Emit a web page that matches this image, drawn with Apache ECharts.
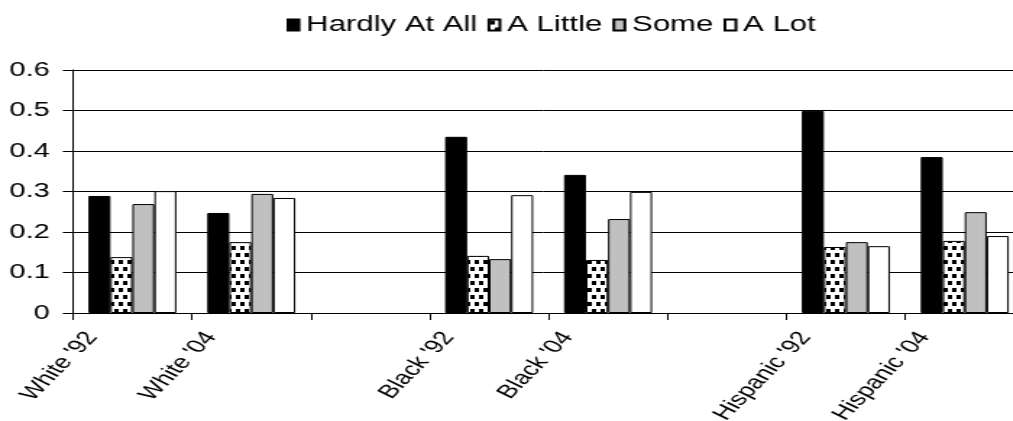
<!DOCTYPE html>
<html>
<head>
<meta charset="utf-8">
<script src="https://cdn.jsdelivr.net/npm/echarts@6/dist/echarts.min.js"></script>
<style>
  html, body { margin: 0; padding: 0; background: #fff; overflow: hidden; }
  /* the chart is laid out narrow and widened horizontally */
  #chart { width: 700px; height: 421px; transform: scaleX(1.447); transform-origin: 0 0; }
</style>
</head>
<body>
<div id="chart"></div>
<script>
// Groups along the x axis (blank slots separate the three groups)
const categories = ["White '92", "White '04", "", "Black '92", "Black '04", " ", "Hispanic '92", "Hispanic '04"];
const seriesNames = ["Hardly At All", "A Little", "Some", "A Lot"];

const hardlyAtAll = [0.289, 0.247, null, 0.435, 0.341, null, 0.499, 0.385];
const aLittle     = [0.138, 0.175, null, 0.141, 0.131, null, 0.163, 0.178];
const some        = [0.269, 0.294, null, 0.133, 0.232, null, 0.175, 0.249];
const aLot        = [0.301, 0.284, null, 0.291, 0.299, null, 0.165, 0.190];

const yTicks = { min: 0, max: 0.6, interval: 0.1 };

// speckled fill for "A Little"
function dotPattern() {
  const c = document.createElement('canvas');
  c.width = 12; c.height = 14;
  const g = c.getContext('2d');
  g.fillStyle = '#fff';
  g.fillRect(0, 0, 12, 14);
  g.fillStyle = '#000';
  g.fillRect(1, 1, 3, 4);
  g.fillRect(7, 1, 3, 4);
  g.fillRect(4, 8, 3, 4);
  g.fillRect(10, 8, 2, 4);
  g.fillRect(0, 8, 1, 4);
  return c;
}

const fills = [
  '#000000',
  { image: dotPattern(), repeat: 'repeat' },
  '#c0c0c0',
  '#ffffff'
];
const values = [hardlyAtAll, aLittle, some, aLot];

const font = 'Liberation Sans, Arial, sans-serif';

// plot area and the label strip, which sits slightly left of the bars
const plot = { left: 50.4, right: -7.8, top: 70, bottom: 108 };
const labelShift = 28;

const chart = echarts.init(document.getElementById('chart'), null, { renderer: 'canvas' });
chart.setOption({
  animation: false,
  backgroundColor: '#fff',
  legend: {
    data: seriesNames,
    left: 193,
    top: 9,
    itemWidth: 7.6,
    itemHeight: 11,
    itemGap: 7,
    icon: 'rect',
    textStyle: { fontFamily: font, fontSize: 21.5, color: '#000' }
  },
  grid: [
    Object.assign({ containLabel: false, outerBoundsMode: 'none' }, plot),
    {
      left: plot.left - labelShift,
      right: plot.right + labelShift,
      top: plot.top,
      bottom: plot.bottom,
      containLabel: false,
      outerBoundsMode: 'none'
    }
  ],
  xAxis: [
    {
      type: 'category',
      gridIndex: 0,
      data: categories,
      boundaryGap: true,
      axisLine: { lineStyle: { color: '#000', width: 1 } },
      axisTick: { show: true, length: 7, alignWithLabel: false, interval: 0, lineStyle: { color: '#000' } },
      axisLabel: { show: false },
      splitLine: { show: false }
    },
    {
      type: 'category',
      gridIndex: 1,
      data: categories,
      boundaryGap: true,
      axisLine: { show: false },
      axisTick: { show: false },
      axisLabel: {
        interval: 0,
        rotate: 55,
        margin: 21,
        fontFamily: font,
        fontSize: 19,
        color: '#000'
      },
      splitLine: { show: false }
    }
  ],
  yAxis: [
    {
      type: 'value',
      gridIndex: 0,
      min: yTicks.min,
      max: yTicks.max,
      interval: yTicks.interval,
      axisLine: { show: true, lineStyle: { color: '#000', width: 1 } },
      axisTick: { show: true, length: 7, lineStyle: { color: '#000' } },
      axisLabel: { margin: 16, fontFamily: font, fontSize: 20, color: '#000' },
      splitLine: { show: true, lineStyle: { color: '#000', width: 1 } }
    },
    {
      type: 'value',
      gridIndex: 1,
      min: yTicks.min,
      max: yTicks.max,
      interval: yTicks.interval,
      show: false
    }
  ],
  series: seriesNames.map((name, i) => ({
    name: name,
    type: 'bar',
    xAxisIndex: 0,
    yAxisIndex: 0,
    data: values[i],
    barWidth: 15.2,
    barGap: '0%',
    itemStyle: { color: fills[i], borderColor: '#000', borderWidth: 1 },
    emphasis: { disabled: true }
  }))
});
</script>
</body>
</html>
